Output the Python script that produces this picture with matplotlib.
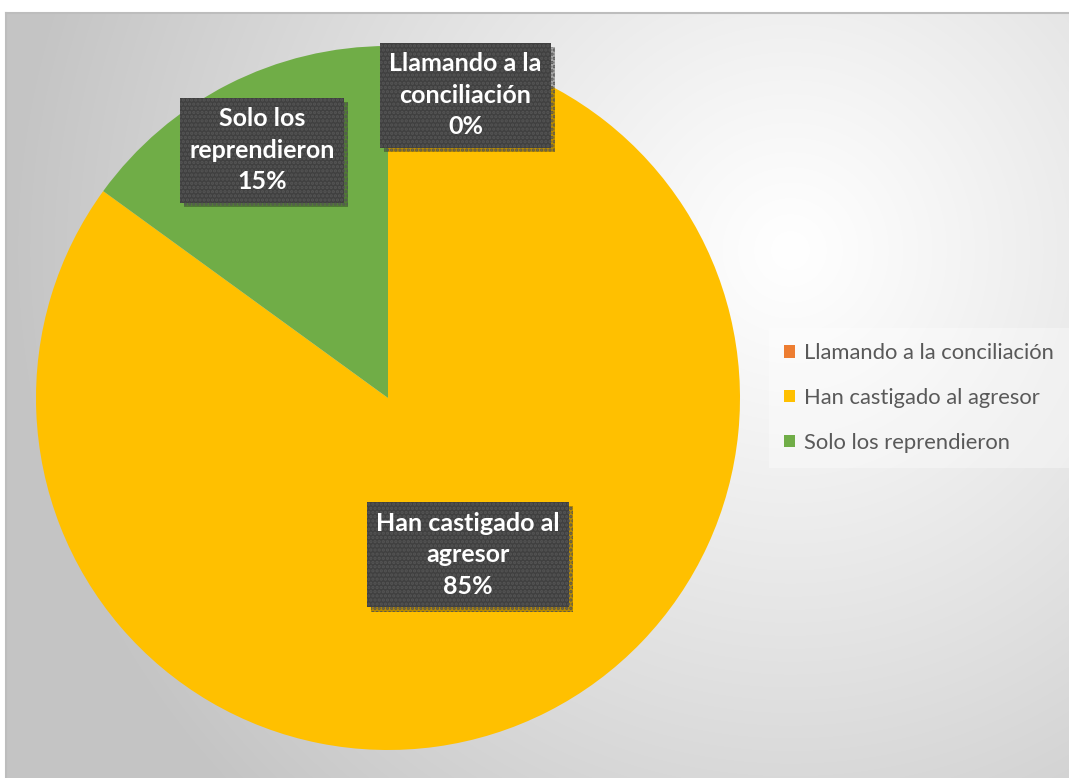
import numpy as np
import matplotlib.pyplot as plt
import matplotlib.patheffects as pe

categories = ['Llamando a la conciliación', 'Han castigado al agresor', 'Solo los reprendieron']
label_text = ['Llamando a la\nconciliación', 'Han castigado al\nagresor', 'Solo los\nreprendieron']
values = [0, 85, 15]
colors = ['#ED7D31', '#FFC000', '#70AD47']

W, H = 1069, 778
fig = plt.figure(figsize=(W / 100, H / 100), dpi=100)
fig.patch.set_facecolor('white')

# background panel with radial gradient
bg = fig.add_axes([6 / W, 0, 1 - 6 / W, (H - 13) / H], zorder=0)
xx, yy = np.meshgrid(np.arange(6, W), np.arange(13, H))
d = np.hypot(xx - 790, yy - 250)
t = np.clip(d / 780, 0, 1) ** 1.1
g = 1.0 - t * (1.0 - 0.77)
img = np.dstack([g, g, g])
bg.imshow(img, aspect='auto', extent=[0, 1, 0, 1], origin='upper')
bg.set_xlim(0, 1)
bg.set_ylim(0, 1)
for s in ['left', 'top']:
    bg.spines[s].set_color('#bdbdbd')
    bg.spines[s].set_linewidth(1.5)
for s in ['right', 'bottom']:
    bg.spines[s].set_visible(False)
bg.set_xticks([])
bg.set_yticks([])

# pie axes
cx, cy, r = 388, 398, 352
ax = fig.add_axes([(cx - r) / W, (H - cy - r) / H, 2 * r / W, 2 * r / H], zorder=1)
ax.set_facecolor('none')
wedges, _ = ax.pie(values, colors=colors, startangle=90, counterclock=False,
                   radius=1, wedgeprops=dict(linewidth=0))
ax.set_xlim(-1, 1)
ax.set_ylim(-1, 1)
ax.set_aspect('equal')
ax.axis('off')

plt.rcParams['hatch.linewidth'] = 1.6

# data labels
label_pos = {0: (0.22, 0.86), 1: None, 2: None}
radii = [0.86, 0.5, 0.79]
for i, w in enumerate(wedges):
    ang = np.deg2rad((w.theta1 + w.theta2) / 2)
    if label_pos[i] is not None:
        x, y = label_pos[i]
    else:
        x, y = radii[i] * np.cos(ang), radii[i] * np.sin(ang)
    txt = ax.text(x, y, f'{label_text[i]}\n{values[i]}%', ha='center', va='center',
                  fontsize=18, fontweight='bold', family='Lato', color='white',
                  linespacing=1.45,
                  bbox=dict(boxstyle='square,pad=0.38', facecolor='#404040',
                            edgecolor='#555555', linewidth=0, hatch='....'),
                  zorder=4)
    txt.get_bbox_patch().set_path_effects(
        [pe.SimplePatchShadow(offset=(3, -3), shadow_rgbFace='black', alpha=0.28),
         pe.Normal()])

# legend
leg = fig.legend(wedges, categories, loc='center left',
                 bbox_to_anchor=(769 / W, (H - 398) / H), borderaxespad=0,
                 frameon=True, fancybox=False, handlelength=0.5, handleheight=0.5,
                 handletextpad=0.4, labelspacing=1.12, borderpad=0.7,
                 prop=dict(family='Lato', size=15.8))
leg.get_frame().set_facecolor('white')
leg.get_frame().set_alpha(0.35)
leg.get_frame().set_edgecolor('none')
for t_ in leg.get_texts():
    t_.set_color('#595959')

fig.savefig('out.png', dpi=100)
